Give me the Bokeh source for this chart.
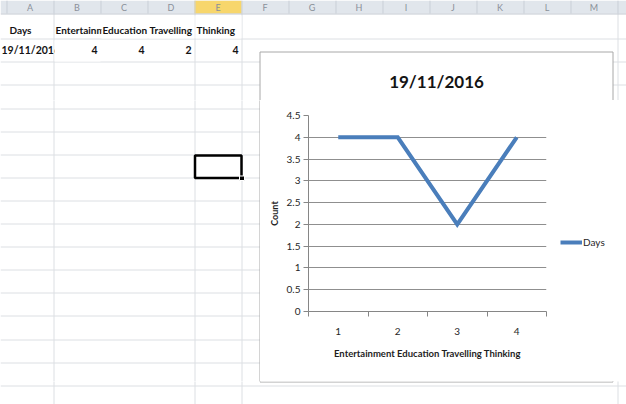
from bokeh.plotting import figure
from bokeh.layouts import column, row
from bokeh.models import Range1d, FixedTicker, NumeralTickFormatter, Legend, LegendItem
from bokeh.core.properties import value
from bokeh.embed import file_html
from bokeh.resources import INLINE

# ---------------- data ----------------
series_name = "Days"
date_label = "19/11/2016"
categories = ["Entertainment", "Education", "Travelling", "Thinking"]
counts = [4, 4, 2, 4]
positions = [1, 2, 3, 4]
y_ticks = [0, 0.5, 1, 1.5, 2, 2.5, 3, 3.5, 4, 4.5]
y_axis_title = "Count"
col_letters = ["A", "B", "C", "D", "E", "F", "G", "H", "I", "J", "K", "L", "M"]

# ---------------- style / geometry ----------------
FONT = "Lato"
W, H = 626, 404
COL_W = 47
col_edges = [6 + COL_W * i for i in range(14)]          # sheet column borders
col_centers = [e + COL_W / 2 for e in col_edges[:13]]
row_lines = [int(15.6 + 23.1 * k) + 0.5 for k in range(1, 18)]
body_vlines = [53.5, 194.5, 241.5, 617.5]
BOX = dict(left=259.5, right=612.5, top=51.5, bottom=381.5)
LINE_BLUE = "#4a7ebb"
TXT = "#141414"


def sheet_fig(x0, x1, y0, y1, texts=False):
    p = figure(width=x1 - x0, height=y1 - y0, x_range=Range1d(x0, x1), y_range=Range1d(y1, y0),
               x_axis_type=None, y_axis_type=None, toolbar_location=None, output_backend="svg",
               min_border=0, outline_line_color=None, title=None, frame_align=False,
               background_fill_color="white", border_fill_color="white")
    # body grid
    p.segment(x0=[0] * len(row_lines), x1=[W] * len(row_lines), y0=row_lines, y1=row_lines,
              line_color="#dcdfe3", line_width=1)
    p.segment(x0=body_vlines, x1=body_vlines, y0=[13] * len(body_vlines), y1=[H] * len(body_vlines),
              line_color="#dcdfe3", line_width=1)
    if texts:
        # column header bar
        p.quad(left=[0], right=[W], top=[0], bottom=[13], fill_color="#e1e6ec", line_color=None)
        p.quad(left=[col_edges[4]], right=[col_edges[5]], top=[0], bottom=[13], fill_color="#f7d66c",
               line_color=None)
        p.segment(x0=[e + 0.5 for e in col_edges], x1=[e + 0.5 for e in col_edges], y0=[0] * 14, y1=[13] * 14,
                  line_color="#c9cfd7")
        p.segment(x0=[0], x1=[W], y0=[13.5], y1=[13.5], line_color="#c3c9d1")
        p.text(x=col_centers, y=[7] * 13, text=col_letters, text_align="center", text_baseline="middle",
               text_font=value(FONT), text_font_size="9px", text_color="#8a9099")
        # row 1: header cells
        ry1, ry2 = 29, 49
        p.text(x=[9], y=[ry1], text=[series_name], text_baseline="middle", text_font_style="bold",
               text_font=value(FONT), text_font_size="10px", text_color=TXT)
        for i, name in enumerate(categories):
            left = col_edges[i + 1] + 2
            p.text(x=[left], y=[ry1], text=[name], text_baseline="middle", text_font_style="bold",
                   text_font=value(FONT), text_font_size="10px", text_color=TXT)
            if i + 1 < len(categories):
                # the next cell is not empty: the text is cut at the cell border
                p.quad(left=[col_edges[i + 2] + 1], right=[col_edges[i + 3]], top=[15], bottom=[38],
                       fill_color="white", line_color=None)
        # row 2: values
        p.text(x=[1], y=[ry2], text=[date_label], text_baseline="middle", text_font_style="bold",
               text_font=value(FONT), text_font_size="10.5px", text_color=TXT)
        p.quad(left=[col_edges[1] + 1], right=[col_edges[2]], top=[40], bottom=[61], fill_color="white",
               line_color=None)
        p.text(x=[col_edges[i + 2] - 3 for i in range(len(counts))], y=[ry2] * len(counts),
               text=[str(v) for v in counts], text_align="right", text_baseline="middle",
               text_font_style="bold", text_font=value(FONT), text_font_size="10.5px", text_color=TXT)
    # selected cell
    p.quad(left=[194.5], right=[241], top=[155], bottom=[177.5], fill_color=None,
           line_color="black", line_width=2.5)
    p.quad(left=[239], right=[244], top=[175.5], bottom=[180], fill_color="black", line_color="white")
    # chart area box
    p.quad(fill_color="white", line_color="#a8a8a8", line_width=1, **{k: [v] for k, v in BOX.items()})
    if texts:
        p.text(x=[436], y=[81], text=[date_label], text_align="center", text_baseline="middle",
               text_font=value(FONT), text_font_size="17px", text_font_style="bold", text_color=TXT)
    return p


top = sheet_fig(0, W, 0, 100, texts=True)
left = sheet_fig(0, 260, 100, 381)
right = sheet_fig(612, W, 100, 381)
bottom = sheet_fig(0, W, 381, H)

# ---------------- chart ----------------
c = figure(frame_width=238, frame_height=196, min_border_left=48, min_border_right=66,
           min_border_top=15, min_border_bottom=70, frame_align=False,
           x_range=Range1d(0.5, 4.5), y_range=Range1d(0, 4.5),
           toolbar_location=None, output_backend="svg", title=None,
           background_fill_color="white", border_fill_color="white", outline_line_color=None)

r = c.line(x=positions, y=counts, line_color=LINE_BLUE, line_width=4, line_join="miter")

axis_gray = "#868686"
xa = c.xaxis[0]
xa.ticker = FixedTicker(ticks=positions, minor_ticks=[v - 0.5 for v in positions] + [positions[-1] + 0.5])
xa.axis_label = " ".join(categories)
xa.axis_label_text_font = FONT
xa.axis_label_text_font_size = "9.5px"
xa.axis_label_text_font_style = "bold"
xa.axis_label_text_color = "#1e1e1e"
xa.axis_label_standoff = 10
xa.major_tick_line_color = None
xa.major_tick_out = 5
xa.minor_tick_out = 5
xa.minor_tick_in = 0
xa.minor_tick_line_color = axis_gray
xa.axis_line_color = axis_gray
xa.major_label_standoff = 11
xa.major_label_text_font = FONT
xa.major_label_text_font_size = "10px"
xa.major_label_text_color = "#262626"

ya = c.yaxis[0]
ya.ticker = FixedTicker(ticks=y_ticks)
ya.formatter = NumeralTickFormatter(format="0.[0]")
ya.axis_label = y_axis_title
ya.axis_label_text_font = FONT
ya.axis_label_text_font_size = "9px"
ya.axis_label_text_font_style = "bold"
ya.axis_label_text_color = "#1e1e1e"
ya.axis_label_standoff = 4
ya.major_tick_out = 5
ya.major_tick_in = 0
ya.major_tick_line_color = axis_gray
ya.minor_tick_line_color = None
ya.axis_line_color = axis_gray
ya.major_label_standoff = 3
ya.major_label_text_font = FONT
ya.major_label_text_font_size = "10px"
ya.major_label_text_color = "#262626"

c.xgrid.visible = False
c.ygrid.grid_line_color = "#8f8f8f"

legend = Legend(items=[LegendItem(label=series_name, renderers=[r])], location=(14, 63),
                orientation="vertical", padding=0, margin=0, spacing=0,
                glyph_width=22, glyph_height=12, label_height=12, label_standoff=1,
                label_text_font=FONT, label_text_font_size="10px", label_text_color="#262626",
                border_line_color=None, background_fill_alpha=0)
c.add_layout(legend, "right")

page = column(top, row(left, c, right), bottom)
open("out.html", "w").write(file_html(page, INLINE))
